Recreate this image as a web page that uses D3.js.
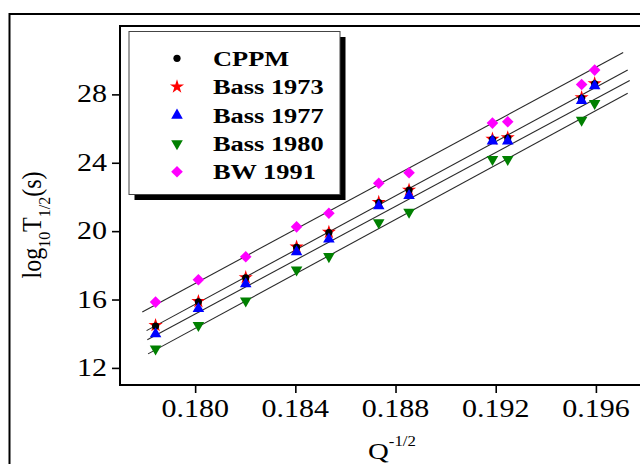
<!DOCTYPE html>
<html><head><meta charset="utf-8">
<script src="https://cdn.jsdelivr.net/npm/d3@7"></script>
<style>html,body{margin:0;padding:0;background:#fff;}svg{display:block;}</style>
</head><body>
<script>
// ---- data ----
const xVals    = [0.17842, 0.18013, 0.18202, 0.18405, 0.18534, 0.18733, 0.18854, 0.19187, 0.19248, 0.19543, 0.19595];
const cppm     = [14.45, 15.87, 17.27, 19.05, 19.92, 21.67, 22.40, 25.37, 25.45, 27.78, 28.62];
const bass1973 = [14.49, 15.89, 17.29, 19.08, 19.94, 21.69, 22.41, 25.39, 25.47, 27.82, 28.64];
const bass1977 = [13.99, 15.46, 16.91, 18.79, 19.53, 21.48, 22.08, 25.27, 25.27, 27.63, 28.50];
const bass1980 = [13.11, 14.49, 15.93, 17.74, 18.52, 20.50, 21.11, 24.20, 24.20, 26.50, 27.47];
const bw1991   = [15.85, 17.16, 18.50, 20.25, 21.05, 22.80, 23.42, 26.32, 26.40, 28.58, 29.42];
// fitted lines: start and end points
const fitX0 = [0.17789, 0.17806, 0.17809, 0.17812];
const fitY0 = [15.27, 14.18, 13.65, 12.82];
const fitX1 = [0.19709, 0.19727, 0.19735, 0.19727];
const fitY1 = [30.45, 29.42, 28.81, 28.06];
const seriesNames = ["CPPM", "Bass 1973", "Bass 1977", "Bass 1980", "BW 1991"];
const xTicks = [0.180, 0.184, 0.188, 0.192, 0.196];
const yTicks = [12, 16, 20, 24, 28];

// ---- layout ----
const W = 640, H = 464;
const L = 120, R = 646, T = 26, B = 385;
const svg = d3.select("body").append("svg").attr("width", W).attr("height", H);
const x = d3.scaleLinear().domain([0.177, 0.198]).range([L, R]);
const y = d3.scaleLinear().domain([11, 32]).range([B, T]);
const serif = "'Liberation Serif','Times New Roman',serif";
const SX = 1.2;

function stext(g, px, py, str, anchor, size, weight) {
  return g.append("text")
    .attr("transform", `translate(${px},${py}) scale(${SX},1)`)
    .attr("text-anchor", anchor)
    .attr("font-family", serif)
    .attr("font-size", size)
    .attr("font-weight", weight || "normal")
    .attr("fill", "#000")
    .text(str);
}

// outer frame
svg.append("rect").attr("x", 9.5).attr("y", 14).attr("width", 660).attr("height", 480)
  .attr("fill", "none").attr("stroke", "#000").attr("stroke-width", 2);

// plot frame
svg.append("rect").attr("x", L).attr("y", T).attr("width", R - L).attr("height", B - T)
  .attr("fill", "none").attr("stroke", "#000").attr("stroke-width", 2);

// axes
const xAxis = svg.append("g").attr("transform", `translate(0,${B})`)
  .call(d3.axisBottom(x).tickValues(xTicks).tickSize(8).tickFormat(d3.format(".3f")));
const yAxis = svg.append("g").attr("transform", `translate(${L},0)`)
  .call(d3.axisLeft(y).tickValues(yTicks).tickSize(8).tickFormat(d3.format("d")));
[xAxis, yAxis].forEach(a => {
  a.select(".domain").remove();
  a.selectAll(".tick line").attr("stroke", "#000").attr("stroke-width", 1.6);
  a.selectAll(".tick text").remove();
});
xTicks.forEach(v => stext(svg, x(v), 417, d3.format(".3f")(v), "middle", 25));
yTicks.forEach(v => stext(svg, 107, y(v) + 8, String(v), "end", 25));

// axis titles
const xt = svg.append("text")
  .attr("transform", `translate(368,459) scale(${SX},1)`)
  .attr("font-family", serif).attr("font-size", 24).attr("fill", "#000");
xt.append("tspan").text("Q");
xt.append("tspan").attr("font-size", 14).attr("dy", -13).text("-1/2");

const yt = svg.append("text")
  .attr("transform", `translate(41,225) scale(1.1,1) rotate(-90)`)
  .attr("text-anchor", "middle")
  .attr("font-family", serif).attr("font-size", 24).attr("fill", "#000");
yt.append("tspan").text("log");
yt.append("tspan").attr("font-size", 16).attr("dy", 8).text("10");
yt.append("tspan").attr("dy", -8).text("T");
yt.append("tspan").attr("font-size", 16).attr("dy", 8).text("1/2");
yt.append("tspan").attr("dy", -8).text("(s)");

// fit lines
const plot = svg.append("g");
fitX0.forEach((d, i) => {
  plot.append("line")
    .attr("x1", x(fitX0[i])).attr("y1", y(fitY0[i]))
    .attr("x2", x(fitX1[i])).attr("y2", y(fitY1[i]))
    .attr("stroke", "#2a2a2a").attr("stroke-width", 1.1);
});

// markers
const diamondPath = "M0,-5.8L5.8,0L0,5.8L-5.8,0Z";
const starPath = d3.symbol().type(d3.symbolStar).size(62)();
const triPath = d3.symbol().type(d3.symbolTriangle).size(58)();

function drawSeries(vals, kind, color) {
  vals.forEach((v, i) => drawMarker(plot, x(xVals[i]), y(v), kind, color));
}
function drawMarker(g, px, py, kind, color) {
  if (kind === "dot") {
    g.append("circle").attr("cx", px).attr("cy", py).attr("r", 3.6).attr("fill", color);
  } else if (kind === "star") {
    g.append("path").attr("d", starPath).attr("transform", `translate(${px},${py})`).attr("fill", color);
  } else if (kind === "up") {
    g.append("path").attr("d", triPath).attr("transform", `translate(${px},${py})`).attr("fill", color);
  } else if (kind === "down") {
    g.append("path").attr("d", triPath).attr("transform", `translate(${px},${py}) rotate(180)`).attr("fill", color);
  } else if (kind === "diamond") {
    g.append("path").attr("d", diamondPath).attr("transform", `translate(${px},${py})`).attr("fill", color);
  }
}
const kinds = ["dot", "star", "up", "down", "diamond"];
const colors = ["#000000", "#ff0000", "#0000ff", "#008000", "#ff00ff"];
drawSeries(bass1973, "star", colors[1]);
drawSeries(cppm, "dot", colors[0]);
drawSeries(bass1977, "up", colors[2]);
drawSeries(bass1980, "down", colors[3]);
drawSeries(bw1991, "diamond", colors[4]);

// legend
const lg = svg.append("g");
lg.append("rect").attr("x", 134.5).attr("y", 37).attr("width", 211).attr("height", 163).attr("fill", "#000");
lg.append("rect").attr("x", 129).attr("y", 31.5).attr("width", 211).attr("height", 163)
  .attr("fill", "#fff").attr("stroke", "#444").attr("stroke-width", 1);
const legY = [58.3, 86.7, 115.3, 143.5, 171.7];
seriesNames.forEach((n, i) => {
  drawMarker(lg, 177, legY[i], kinds[i], colors[i]);
  stext(lg, 213, legY[i] + 7.5, n, "start", 22, "bold");
});
</script>
</body></html>
